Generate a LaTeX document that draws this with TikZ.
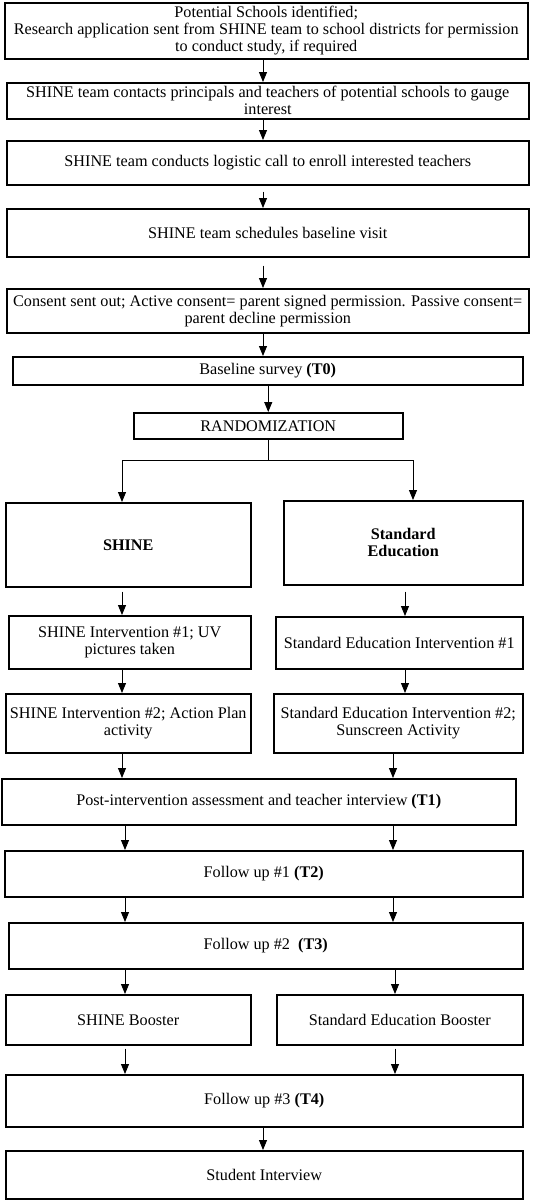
\documentclass[tikz,border=0pt]{standalone}
\usepackage{fontspec}
\setmainfont{Liberation Serif}
\usetikzlibrary{arrows.meta}
\begin{document}
\begin{tikzpicture}[x=1pt,y=-1pt,
  box/.style={draw, line width=1.5pt, inner sep=0pt, anchor=north west, align=center,
    font=\fontsize{16.2}{17}\selectfont},
  arr/.style={-{Triangle[width=8pt,length=10pt]}, line width=0.9pt},
  ln/.style={line width=0.9pt}]
\useasboundingbox (0,0) rectangle (536,1200);
\newcommand{\bx}[6]{\node[box, minimum width=#4-#2, minimum height=#5-#3] (#1) at (#2,#3) {#6};}
\bx{b1}{4}{2}{527}{58}{Potential Schools identified;\\Research application sent from SHINE team to school districts for permission\\to conduct study, if required}
\bx{b2}{6}{82}{528}{118}{SHINE team contacts principals and teachers of potential schools to gauge\\interest}
\bx{b3}{6}{140}{528}{184}{SHINE team conducts logistic call to enroll interested teachers}
\bx{b4}{6}{208}{528}{256}{SHINE team schedules baseline visit}
\bx{b5}{6}{288}{528}{332}{Consent sent out; Active consent= parent signed permission. Passive consent=\\parent decline permission}
\bx{b6}{12}{356}{522}{384}{Baseline survey \textbf{(T0)}}
\bx{rand}{133}{412}{402}{438}{RANDOMIZATION}
\bx{shine}{5}{502}{250}{586}{\textbf{SHINE}}
\bx{std}{283}{500}{522}{584}{\textbf{Standard}\\\textbf{Education}}
\bx{si1}{8}{615}{250}{668}{SHINE Intervention \#1; UV\\pictures taken}
\bx{se1}{275}{616}{522}{668}{Standard Education Intervention \#1}
\bx{si2}{5}{693}{250}{752}{SHINE Intervention \#2; Action Plan\\activity}
\bx{se2}{273}{693}{522}{752}{Standard Education Intervention \#2;\\Sunscreen Activity}
\bx{post}{1}{778}{515}{824}{Post-intervention assessment and teacher interview \textbf{(T1)}}
\bx{fu1}{4}{850}{522}{896}{Follow up \#1 \textbf{(T2)}}
\bx{fu2}{8}{922}{522}{968}{Follow up \#2~ \textbf{(T3)}}
\bx{sb}{5}{994}{250}{1044}{SHINE Booster}
\bx{sdb}{276}{994}{522}{1044}{Standard Education Booster}
\bx{fu3}{5}{1074}{522}{1126}{Follow up \#3 \textbf{(T4)}}
\bx{si}{5}{1150}{522}{1198}{Student Interview}
% main column
\coordinate (cx) at (263,0);
\draw[arr] (b1.south -| cx) -- (b2.north -| cx);
\draw[arr] (b2.south -| cx) -- (b3.north -| cx);
\draw[arr, shorten <=6pt] (b3.south -| cx) -- (b4.north -| cx);
\draw[arr, shorten <=8pt] (b4.south -| cx) -- (b5.north -| cx);
\draw[arr] (b5.south -| cx) -- (b6.north -| cx);
\draw[arr] (b6.south -| rand) -- (rand.north);
% split
\coordinate (sl) at (122,460);
\coordinate (sr) at (413,460);
\draw[ln] (rand.south) -- (rand.south |- sl);
\draw[ln] (sl) -- (sr);
\draw[arr] (sl) -- (sl |- shine.north);
\draw[arr] (sr) -- (sr |- std.north);
% columns
\coordinate (cl) at (122,0);
\coordinate (cr) at (405,0);
\draw[arr, shorten <=4pt] (shine.south -| cl) -- (si1.north -| cl);
\draw[arr, shorten <=6pt] (std.south -| cr) -- (se1.north -| cr);
\draw[arr] (si1.south -| cl) -- (si2.north -| cl);
\draw[arr] (se1.south -| cr) -- (se2.north -| cr);
\coordinate (dl) at (122,0);
\coordinate (dr) at (393,0);
\draw[arr] (si2.south -| dl) -- (post.north -| dl);
\draw[arr] (se2.south -| dr) -- (post.north -| dr);
\coordinate (el) at (125,0);
\draw[arr] (post.south -| el) -- (fu1.north -| el);
\draw[arr] (post.south -| dr) -- (fu1.north -| dr);
\draw[arr] (fu1.south -| el) -- (fu2.north -| el);
\draw[arr] (fu1.south -| dr) -- (fu2.north -| dr);
\coordinate (fr) at (395,0);
\draw[arr] (fu2.south -| el) -- (sb.north -| el);
\draw[arr] (fu2.south -| fr) -- (sdb.north -| fr);
\draw[arr, shorten <=3pt] (sb.south -| el) -- (fu3.north -| el);
\draw[arr, shorten <=3pt] (sdb.south -| fr) -- (fu3.north -| fr);
\draw[arr] (fu3.south -| cx) -- (si.north -| cx);
\end{tikzpicture}
\end{document}
